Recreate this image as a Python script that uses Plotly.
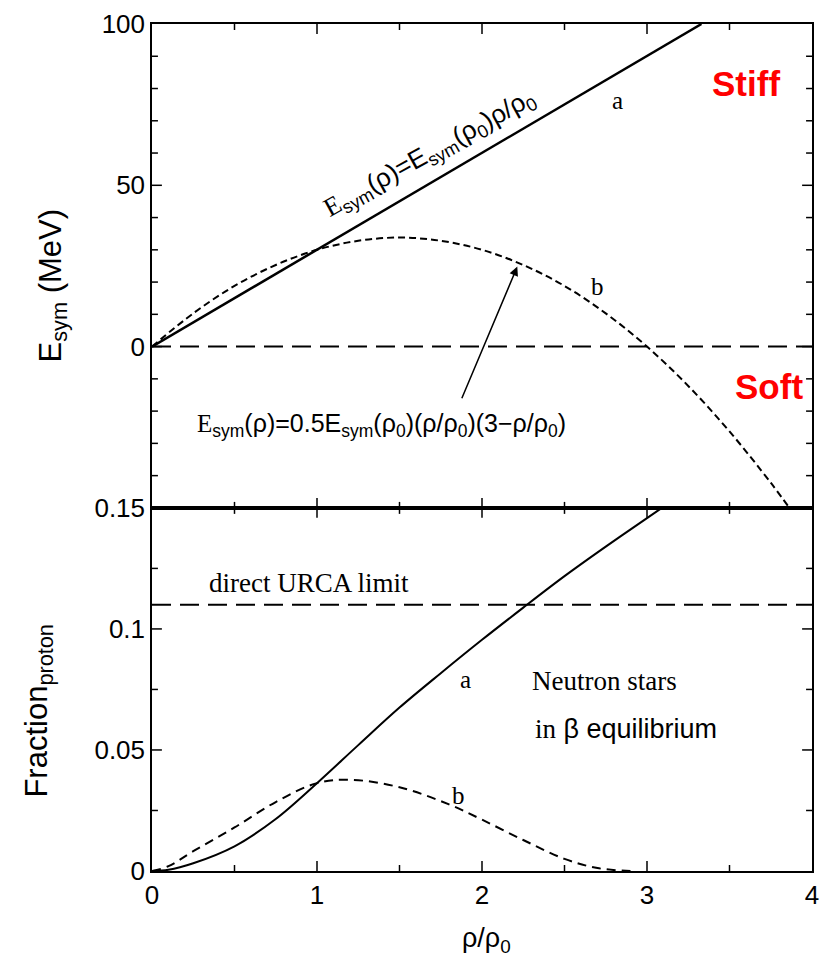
import plotly.graph_objects as go

# ---------------- data ----------------
# top panel: symmetry energy (MeV) vs rho/rho0
rho_top_a = [0.0, 1.0, 2.0, 3.0, 3.33]
esym_a = [0.0, 30.0, 60.0, 90.0, 100.0]

rho_top_b = [0.0, 0.25, 0.5, 0.75, 1.0, 1.25, 1.5, 1.75, 2.0, 2.25, 2.5, 2.75, 3.0, 3.25, 3.5, 3.75, 3.87]
esym_b = [0.0, 10.3, 18.8, 25.3, 30.0, 32.8, 33.8, 32.8, 30.0, 25.3, 18.8, 10.3, 0.0, -12.2, -26.3, -42.2, -50.5]

zero_x = [0.0, 4.0]
zero_y = [0.0, 0.0]

# bottom panel: proton fraction vs rho/rho0
rho_bot_a = [0.0, 0.1, 0.25, 0.5, 0.75, 1.0, 1.25, 1.5, 1.75, 2.0, 2.25, 2.5, 2.75, 3.0, 3.09]
frac_a = [0.0, 0.0005, 0.0032, 0.0102, 0.0215, 0.0363, 0.052, 0.0675, 0.0817, 0.0955, 0.1088, 0.1218, 0.134, 0.1458, 0.15]

rho_bot_b = [0.0, 0.1, 0.25, 0.5, 0.75, 1.0, 1.2, 1.5, 1.8, 2.0, 2.25, 2.5, 2.7, 2.9]
frac_b = [0.0, 0.002, 0.0082, 0.018, 0.0285, 0.0363, 0.0377, 0.0346, 0.0275, 0.0212, 0.0128, 0.005, 0.0012, 0.0]

urca_x = [0.0, 4.0]
urca_y = [0.11, 0.11]

# tick labels
x_tickvals = [0, 1, 2, 3, 4]
x_ticktext = ["0", "1", "2", "3", "4"]
top_tickvals = [0, 50, 100]
top_ticktext = ["0", "50", "100"]
bot_tickvals = [0, 0.05, 0.1, 0.15]
bot_ticktext = ["0", "0.05", "0.1", "0.15"]

# tick-mark positions (major / minor)
x_major = [1, 2, 3]
x_minor = [0.5, 1.5, 2.5, 3.5]
top_major = [0, 50]
top_minor = [-40, -30, -20, -10, 10, 20, 30, 40, 60, 70, 80, 90]
bot_major = [0.05, 0.1]
bot_minor = [0.025, 0.075, 0.125]

# ---------------- figure ----------------
SANS = "Liberation Sans, Arial, sans-serif"
SERIF = "Liberation Serif, Times New Roman, serif"
split = 0.4287
H_PLOT = 849
W_PLOT = 667
H_BOT = split * H_PLOT
H_TOP = (1 - split) * H_PLOT
MAJ, MIN = 10, 6

fig = go.Figure()
fig.add_trace(go.Scatter(x=rho_bot_a, y=frac_a, xaxis="x", yaxis="y", mode="lines",
                         line=dict(color="black", width=2, shape="spline"), showlegend=False))
fig.add_trace(go.Scatter(x=rho_bot_b, y=frac_b, xaxis="x", yaxis="y", mode="lines",
                         line=dict(color="black", width=2, dash="9px,6px", shape="spline"), showlegend=False))
fig.add_trace(go.Scatter(x=urca_x, y=urca_y, xaxis="x", yaxis="y", mode="lines",
                         line=dict(color="black", width=2, dash="19px,9px"), showlegend=False))
fig.add_trace(go.Scatter(x=rho_top_a, y=esym_a, xaxis="x2", yaxis="y2", mode="lines",
                         line=dict(color="black", width=2.5), showlegend=False))
fig.add_trace(go.Scatter(x=rho_top_b, y=esym_b, xaxis="x2", yaxis="y2", mode="lines",
                         line=dict(color="black", width=2, dash="7px,4px", shape="spline"), showlegend=False))
fig.add_trace(go.Scatter(x=zero_x, y=zero_y, xaxis="x2", yaxis="y2", mode="lines",
                         line=dict(color="black", width=2, dash="19px,9px"), showlegend=False))

axis_common = dict(showline=True, linecolor="black", linewidth=1.5, mirror=True,
                   ticks="", showgrid=False, zeroline=False, tickmode="array",
                   tickfont=dict(family=SANS, size=26, color="black"))

fig.update_layout(
    width=828, height=957,
    margin=dict(l=152, r=9, t=22, b=86),
    paper_bgcolor="white", plot_bgcolor="white",
    xaxis=dict(domain=[0, 1], anchor="y", range=[0, 4],
               tickvals=x_tickvals, ticktext=x_ticktext, **axis_common),
    xaxis2=dict(domain=[0, 1], anchor="y2", range=[0, 4],
                tickvals=x_tickvals, showticklabels=False, **axis_common),
    yaxis=dict(domain=[0, split], anchor="x", range=[0, 0.15],
               tickvals=bot_tickvals, ticktext=bot_ticktext, **axis_common),
    yaxis2=dict(domain=[split, 1], anchor="x2", range=[-50, 100],
                tickvals=top_tickvals, ticktext=top_ticktext, **axis_common),
)

# inward tick marks on all four sides of both panels
tick_line = dict(color="black", width=1.5)
shapes = []


def x_ticks(xref, yref, hpanel, vals, length):
    f = length / hpanel
    for v in vals:
        shapes.append(dict(type="line", xref=xref, yref=yref, x0=v, x1=v, y0=0, y1=f,
                           line=tick_line, layer="above"))
        shapes.append(dict(type="line", xref=xref, yref=yref, x0=v, x1=v, y0=1, y1=1 - f,
                           line=tick_line, layer="above"))


def y_ticks(xref, yref, vals, length):
    f = length / W_PLOT
    for v in vals:
        shapes.append(dict(type="line", xref=xref, yref=yref, x0=0, x1=f, y0=v, y1=v,
                           line=tick_line, layer="above"))
        shapes.append(dict(type="line", xref=xref, yref=yref, x0=1, x1=1 - f, y0=v, y1=v,
                           line=tick_line, layer="above"))


x_ticks("x", "y domain", H_BOT, x_major, MAJ)
x_ticks("x", "y domain", H_BOT, x_minor, MIN)
x_ticks("x2", "y2 domain", H_TOP, x_major, MAJ)
x_ticks("x2", "y2 domain", H_TOP, x_minor, MIN)
y_ticks("x domain", "y", bot_major, MAJ)
y_ticks("x domain", "y", bot_minor, MIN)
y_ticks("x2 domain", "y2", top_major, MAJ)
y_ticks("x2 domain", "y2", top_minor, MIN)
fig.update_layout(shapes=shapes)

ann = []
# axis titles
ann.append(dict(text="E<sub>sym</sub> (MeV)", xref="paper", yref="paper",
                x=(52 - 152) / 667, y=(871 - 285) / 849, textangle=-90,
                showarrow=False, xanchor="center", yanchor="middle",
                font=dict(family=SANS, size=31, color="black")))
ann.append(dict(text="Fraction<sub>proton</sub>", xref="paper", yref="paper",
                x=(38 - 152) / 667, y=(871 - 711) / 849, textangle=-90,
                showarrow=False, xanchor="center", yanchor="middle",
                font=dict(family=SANS, size=31, color="black")))
ann.append(dict(text="ρ/ρ<sub>0</sub>", xref="paper", yref="paper",
                x=(490 - 152) / 667, y=(871 - 940) / 849,
                showarrow=False, xanchor="center", yanchor="middle",
                font=dict(family=SANS, size=27, color="black")))

# top panel texts
ann.append(dict(text='<span style="font-family:Liberation Serif">E</span><sub>sym</sub>(ρ)=E<sub>sym</sub>(ρ<sub>0</sub>)ρ/ρ<sub>0</sub>',
                xref="x2", yref="y2", x=1.68, y=60.0, textangle=-29, showarrow=False,
                xanchor="center", yanchor="middle", font=dict(family=SANS, size=26, color="black")))
ann.append(dict(text='<span style="font-family:Liberation Serif">E</span><sub>sym</sub>(ρ)=0.5E<sub>sym</sub>(ρ<sub>0</sub>)(ρ/ρ<sub>0</sub>)(3−ρ/ρ<sub>0</sub>)',
                xref="x2", yref="y2", x=1.39, y=-24.2, showarrow=False,
                xanchor="center", yanchor="middle", font=dict(family=SANS, size=25, color="black")))
ann.append(dict(text="", xref="x2", yref="y2", x=2.214, y=24.8,
                axref="x2", ayref="y2", ax=1.874, ay=-16.5,
                showarrow=True, arrowhead=2, arrowsize=1.2, arrowwidth=1.5, arrowcolor="black"))
ann.append(dict(text="a", xref="x2", yref="y2", x=2.82, y=76.4, showarrow=False,
                font=dict(family=SERIF, size=25, color="black")))
ann.append(dict(text="b", xref="x2", yref="y2", x=2.70, y=18.6, showarrow=False,
                font=dict(family=SERIF, size=25, color="black")))
ann.append(dict(text="<b>Stiff</b>", xref="x2", yref="y2", x=3.60, y=81.5, showarrow=False,
                font=dict(family=SANS, size=35, color="#ff0000")))
ann.append(dict(text="<b>Soft</b>", xref="x2", yref="y2", x=3.74, y=-12.4, showarrow=False,
                font=dict(family=SANS, size=35, color="#ff0000")))

# bottom panel texts
ann.append(dict(text="direct URCA limit", xref="x", yref="y", x=0.952, y=0.119, showarrow=False,
                font=dict(family=SERIF, size=27, color="black")))
ann.append(dict(text="a", xref="x", yref="y", x=1.90, y=0.0793, showarrow=False,
                font=dict(family=SERIF, size=25, color="black")))
ann.append(dict(text="b", xref="x", yref="y", x=1.86, y=0.0312, showarrow=False,
                font=dict(family=SERIF, size=25, color="black")))
ann.append(dict(text="Neutron stars", xref="x", yref="y", x=2.74, y=0.0785, showarrow=False,
                font=dict(family=SERIF, size=27, color="black")))
ann.append(dict(text='<span style="font-family:Liberation Serif">in</span> β equilibrium',
                xref="x", yref="y", x=2.87, y=0.0587, showarrow=False,
                font=dict(family=SANS, size=27, color="black")))
fig.update_layout(annotations=ann)

fig.write_html("out.html")
